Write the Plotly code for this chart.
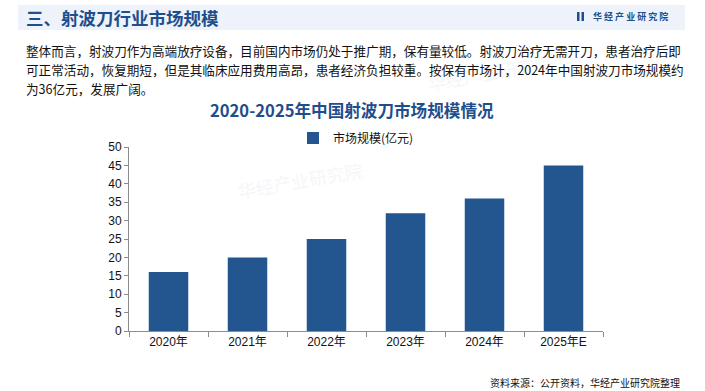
import plotly.graph_objects as go

categories = ["2020年", "2021年", "2022年", "2023年", "2024年", "2025年E"]
values = [16, 20, 25, 32, 36, 45]
series_name = "市场规模(亿元)"
y_ticks = [0, 5, 10, 15, 20, 25, 30, 35, 40, 45, 50]

header_title = "三、射波刀行业市场规模"
chart_title = "2020-2025年中国射波刀市场规模情况"
para_lines = [
    "整体而言，射波刀作为高端放疗设备，目前国内市场仍处于推广期，保有量较低。射波刀治疗无需开刀，患者治疗后即",
    "可正常活动，恢复期短，但是其临床应用费用高昂，患者经济负担较重。按保有市场计，2024年中国射波刀市场规模约",
    "为36亿元，发展广阔。",
]
source_text = "资料来源：公开资料，华经产业研究院整理"
brand = "华 经 产 业 研 究 院"

W, H = 705, 391
L, R, T, B = 129, 603, 147, 331
BAR = "#23558F"
TITLE_C = "#1F4E8C"
CJK = "Noto Sans CJK SC, Liberation Sans, sans-serif"

fig = go.Figure()
fig.add_trace(go.Bar(
    x=categories, y=values, name=series_name,
    marker=dict(color=BAR, line=dict(width=0)), width=0.5,
))

def px(x):
    return (x - L) / (R - L)

def py(y):
    return (B - y) / (B - T)

annotations = []
shapes = []

# very faint watermarks (only in empty areas)
for (wx, wy) in [(300, 180), (490, 72)]:
    annotations.append(dict(xref="paper", yref="paper", x=px(wx), y=py(wy), text="华经产业研究院",
                            showarrow=False, font=dict(family=CJK, size=18, color="#F5F6F9"),
                            textangle=-10, xanchor="center", yanchor="middle"))

# header band
shapes.append(dict(type="rect", xref="paper", yref="paper", x0=px(18), x1=px(685), y0=py(30), y1=py(5),
                   fillcolor="#EEF3FB", line=dict(width=0), layer="below"))
annotations.append(dict(xref="paper", yref="paper", x=px(24), y=py(17.5), text="<b>" + header_title + "</b>",
                        showarrow=False, xanchor="left", yanchor="middle",
                        font=dict(family=CJK, size=17.5, color=TITLE_C)))
# logo
shapes.append(dict(type="rect", xref="paper", yref="paper", x0=px(577), x1=px(579.5), y0=py(21), y1=py(12),
                   fillcolor=TITLE_C, line=dict(width=0)))
shapes.append(dict(type="rect", xref="paper", yref="paper", x0=px(581.5), x1=px(584), y0=py(21), y1=py(12),
                   fillcolor=TITLE_C, line=dict(width=0)))
annotations.append(dict(xref="paper", yref="paper", x=px(591), y=py(16.5), text="<b>" + brand + "</b>",
                        showarrow=False, xanchor="left", yanchor="middle",
                        font=dict(family=CJK, size=9, color=TITLE_C)))

# paragraph
for line, yy in zip(para_lines, [51, 69.5, 88]):
    annotations.append(dict(xref="paper", yref="paper", x=px(24), y=py(yy), text=line,
                            showarrow=False, xanchor="left", yanchor="middle",
                            font=dict(family=CJK, size=12.6, color="#111111")))

# chart title
annotations.append(dict(xref="paper", yref="paper", x=px(352), y=py(110), text="<b>" + chart_title + "</b>",
                        showarrow=False, xanchor="center", yanchor="middle",
                        font=dict(family=CJK, size=16.6, color=TITLE_C)))

# source
annotations.append(dict(xref="paper", yref="paper", x=px(682), y=py(382), text=source_text,
                        showarrow=False, xanchor="right", yanchor="middle",
                        font=dict(family=CJK, size=10, color="#111111")))

fig.update_layout(
    width=W, height=H, autosize=False,
    margin=dict(l=L, r=W - R, t=T, b=H - B, pad=0),
    paper_bgcolor="white", plot_bgcolor="white",
    showlegend=True,
    legend=dict(orientation="h", x=px(356), xanchor="center", y=py(138),
                yanchor="middle", font=dict(family=CJK, size=12, color="#111111"),
                itemwidth=30, bgcolor="rgba(0,0,0,0)"),
    annotations=annotations, shapes=shapes,
    xaxis=dict(showline=True, linecolor="#8C8C8C", linewidth=1, ticks="outside", tickson="boundaries",
               ticklen=5, tickcolor="#8C8C8C", showgrid=False,
               tickfont=dict(family="Liberation Sans, Noto Sans CJK SC", size=12, color="#111111")),
    yaxis=dict(range=[0, 50], tickvals=y_ticks, showline=True, linecolor="#8C8C8C", linewidth=1,
               ticks="outside", ticklen=4, tickcolor="#8C8C8C", showgrid=False, zeroline=False,
               tickfont=dict(family="Liberation Sans, Arial", size=12, color="#111111")),
)

fig.write_html("out.html", config={"displayModeBar": False},
               post_script="document.body.style.margin='0';")
